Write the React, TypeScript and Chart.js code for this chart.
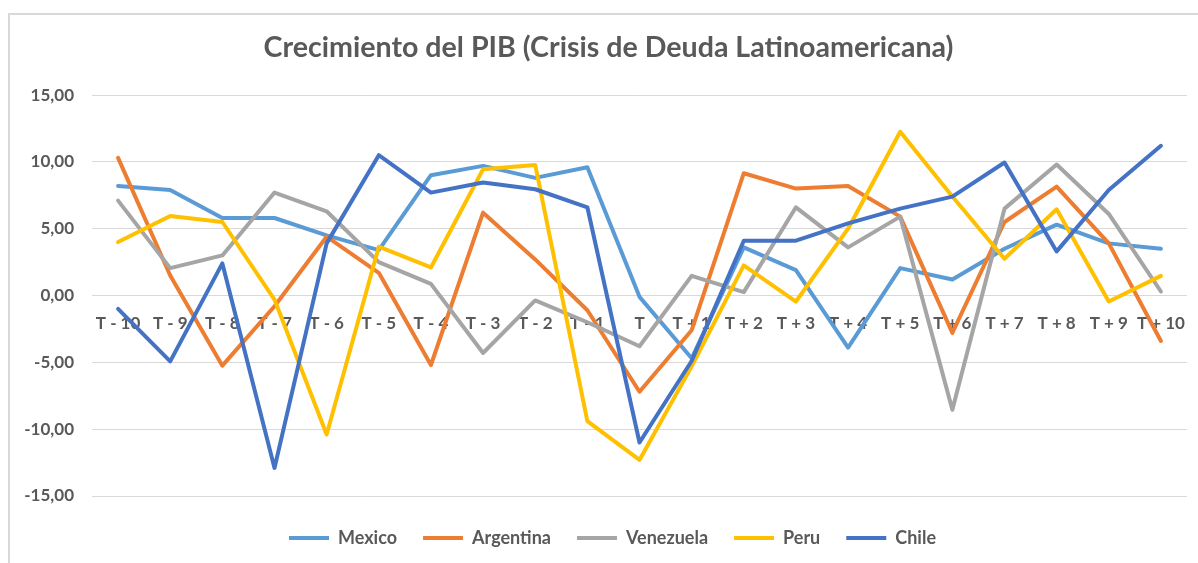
import React, { useEffect, useRef } from "react";
import { Chart, registerables } from "chart.js";

Chart.register(...registerables);

const categories = [
  "T - 10", "T - 9", "T - 8", "T - 7", "T - 6", "T - 5", "T - 4", "T - 3", "T - 2", "T - 1",
  "T",
  "T + 1", "T + 2", "T + 3", "T + 4", "T + 5", "T + 6", "T + 7", "T + 8", "T + 9", "T + 10",
];

const mexico = [8.2, 7.9, 5.8, 5.8, 4.5, 3.4, 9.0, 9.7, 8.8, 9.6, -0.1, -4.7, 3.6, 1.9, -3.9, 2.05, 1.2, 3.5, 5.3, 3.9, 3.5];
const argentina = [10.3, 1.5, -5.25, -0.8, 4.4, 1.7, -5.2, 6.2, 2.7, -1.1, -7.2, -2.6, 9.15, 8.0, 8.2, 5.9, -2.8, 5.5, 8.15, 3.9, -3.4];
const venezuela = [7.1, 2.05, 3.0, 7.7, 6.3, 2.5, 0.87, -4.3, -0.37, -2.0, -3.8, 1.47, 0.25, 6.6, 3.6, 5.9, -8.55, 6.5, 9.8, 6.1, 0.3];
const peru = [4.0, 5.95, 5.5, -0.3, -10.4, 3.65, 2.1, 9.45, 9.77, -9.4, -12.3, -5.3, 2.25, -0.45, 5.0, 12.25, 7.4, 2.75, 6.45, -0.45, 1.47];
const chile = [-1.0, -4.93, 2.4, -12.9, 3.9, 10.5, 7.7, 8.45, 7.95, 6.6, -11.0, -4.9, 4.1, 4.1, 5.4, 6.5, 7.4, 9.95, 3.3, 7.9, 11.2];

const seriesNames = ["Mexico", "Argentina", "Venezuela", "Peru", "Chile"];
const seriesColors = ["#5B9BD5", "#ED7D31", "#A5A5A5", "#FFC000", "#4472C4"];
const seriesValues = [mexico, argentina, venezuela, peru, chile];

const yMin = -15;
const yMax = 15;
const yStep = 5;

const titleText = "Crecimiento del PIB (Crisis de Deuda Latinoamericana)";
const textColor = "#595959";
const gridColor = "#D9D9D9";
const fontFamily = "Lato, 'Open Sans', sans-serif";

const layoutTweaks = {
  id: "layoutTweaks",
  afterLayout(chart: any) {
    const y = chart.scales.y;
    if (y) {
      y.left = 0;
      y.width = y.right;
    }
    if (chart.legend) {
      chart.legend.left += 4;
      chart.legend.right += 4;
    }
  },
};

export default function App() {
  const canvasRef = useRef<HTMLCanvasElement | null>(null);

  useEffect(() => {
    const canvas = canvasRef.current;
    if (!canvas) return;
    const n = seriesNames.length;
    const chart = new Chart(canvas, {
      type: "line",
      data: {
        labels: categories,
        datasets: seriesNames.map((name, i) => ({
          label: name,
          data: seriesValues[i],
          borderColor: seriesColors[i],
          backgroundColor: seriesColors[i],
          borderWidth: 4,
          pointRadius: 0,
          pointHoverRadius: 0,
          pointStyle: "line",
          tension: 0,
          fill: false,
          borderCapStyle: "round",
          borderJoinStyle: "round",
          order: n - i,
        })),
      },
      plugins: [layoutTweaks],
      options: {
        responsive: false,
        animation: false,
        layout: { padding: { left: 30, right: 11, top: 0, bottom: 6 } },
        plugins: {
          tooltip: { enabled: false },
          title: {
            display: true,
            text: titleText,
            color: textColor,
            font: { family: fontFamily, size: 28.6, weight: "bold" },
            padding: { top: 31, bottom: 29.7 },
          },
          legend: {
            display: true,
            position: "bottom",
            title: { display: true, text: "", font: { size: 0 }, padding: { top: 7, bottom: 0 } },
            labels: {
              usePointStyle: true,
              pointStyleWidth: 40,
              color: textColor,
              font: { family: fontFamily, size: 18, weight: "bold" },
              padding: 26,
              sort: (a: any, b: any) => a.datasetIndex - b.datasetIndex,
            },
          },
        },
        scales: {
          x: {
            position: { y: 0 } as any,
            offset: true,
            grid: { display: false },
            border: { display: false },
            ticks: {
              color: textColor,
              font: { family: fontFamily, size: 17, weight: "bold" },
              padding: 10,
              maxRotation: 0,
              autoSkip: false,
            },
          },
          y: {
            min: yMin,
            max: yMax,
            grid: { color: gridColor, lineWidth: 1, drawTicks: false },
            border: { display: false },
            ticks: {
              stepSize: yStep,
              color: textColor,
              font: { family: fontFamily, size: 17, weight: "bold" },
              padding: 18,
              callback: (v: any) => Number(v).toFixed(2).replace(".", ","),
            },
            afterFit: (s: any) => {
              s.width = 62;
            },
          },
        },
      },
    });
    return () => chart.destroy();
  }, []);

  return (
    <div style={{ position: "fixed", left: 0, top: 0, width: 1198, height: 563, overflow: "hidden", background: "#fff" }}>
      <div
        style={{
          position: "absolute",
          left: 8,
          top: 13,
          width: 1300,
          height: 700,
          border: "2px solid #D9D9D9",
          boxSizing: "border-box",
        }}
      />
      <canvas ref={canvasRef} width={1198} height={563} style={{ position: "absolute", left: 0, top: 0 }} />
    </div>
  );
}
